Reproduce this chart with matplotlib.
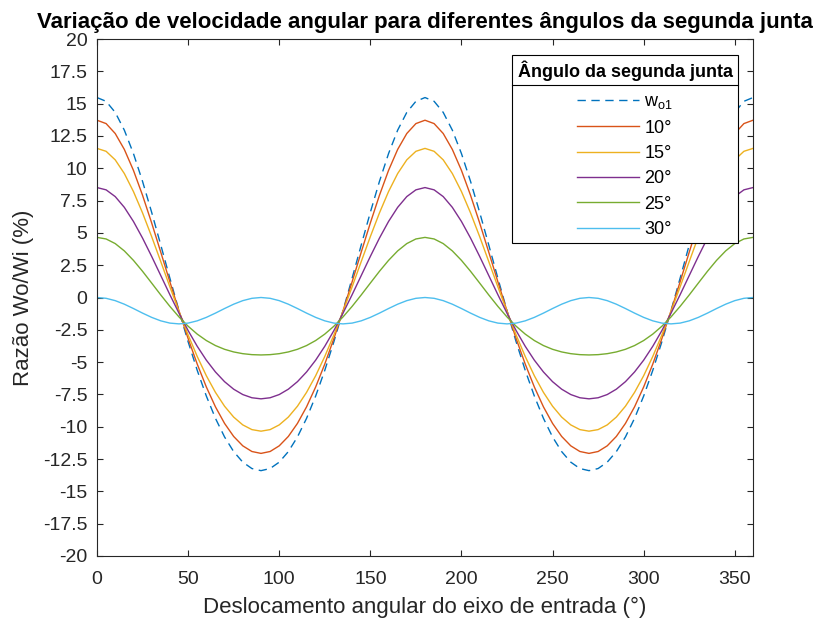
import matplotlib
matplotlib.use("Agg")
import matplotlib.pyplot as plt
from matplotlib.lines import Line2D

plt.rcParams['font.family'] = ['Liberation Sans', 'DejaVu Sans']

# Input shaft angle (degrees)
angle = list(range(0, 361, 5))

# Velocity ratio variation (%)
w_o1 = [15.470, 15.178, 14.321, 12.948, 11.137, 8.982, 6.588, 4.059, 1.492, -1.026, -3.421, -5.636, -7.624, -9.350, -10.789, -11.923, -12.740, -13.233, -13.397,
        -13.233, -12.740, -11.923, -10.789, -9.350, -7.624, -5.636, -3.421, -1.026, 1.492, 4.059, 6.588, 8.982, 11.137, 12.948, 14.321, 15.178, 15.470,
        15.178, 14.321, 12.948, 11.137, 8.982, 6.588, 4.059, 1.492, -1.026, -3.421, -5.636, -7.624, -9.350, -10.789, -11.923, -12.740, -13.233, -13.397,
        -13.233, -12.740, -11.923, -10.789, -9.350, -7.624, -5.636, -3.421, -1.026, 1.492, 4.059, 6.588, 8.982, 11.137, 12.948, 14.321, 15.178, 15.470]

j10 = [13.716, 13.455, 12.687, 11.457, 9.836, 7.907, 5.766, 3.505, 1.211, -1.037, -3.175, -5.151, -6.922, -8.460, -9.741, -10.750, -11.477, -11.915, -12.061,
       -11.915, -11.477, -10.750, -9.741, -8.460, -6.922, -5.151, -3.175, -1.037, 1.211, 3.505, 5.766, 7.907, 9.836, 11.457, 12.687, 13.455, 13.716,
       13.455, 12.687, 11.457, 9.836, 7.907, 5.766, 3.505, 1.211, -1.037, -3.175, -5.151, -6.922, -8.460, -9.741, -10.750, -11.477, -11.915, -12.061,
       -11.915, -11.477, -10.750, -9.741, -8.460, -6.922, -5.151, -3.175, -1.037, 1.211, 3.505, 5.766, 7.907, 9.836, 11.457, 12.687, 13.455, 13.716]

j15 = [11.536, 11.311, 10.649, 9.591, 8.198, 6.543, 4.709, 2.778, 0.824, -1.085, -2.895, -4.562, -6.052, -7.340, -8.411, -9.252, -9.857, -10.221, -10.342,
       -10.221, -9.857, -9.252, -8.411, -7.340, -6.052, -4.562, -2.895, -1.085, 0.824, 2.778, 4.709, 6.543, 8.198, 9.591, 10.649, 11.311, 11.536,
       11.311, 10.649, 9.591, 8.198, 6.543, 4.709, 2.778, 0.824, -1.085, -2.895, -4.562, -6.052, -7.340, -8.411, -9.252, -9.857, -10.221, -10.342,
       -10.221, -9.857, -9.252, -8.411, -7.340, -6.052, -4.562, -2.895, -1.085, 0.824, 2.778, 4.709, 6.543, 8.198, 9.591, 10.649, 11.311, 11.536]

j20 = [8.506, 8.329, 7.807, 6.975, 5.883, 4.595, 3.177, 1.697, 0.215, -1.217, -2.557, -3.774, -4.847, -5.761, -6.512, -7.094, -7.509, -7.757, -7.840,
       -7.757, -7.509, -7.094, -6.512, -5.761, -4.847, -3.774, -2.557, -1.217, 0.215, 1.697, 3.177, 4.595, 5.883, 6.975, 7.807, 8.329, 8.506,
       8.329, 7.807, 6.975, 5.883, 4.595, 3.177, 1.697, 0.215, -1.217, -2.557, -3.774, -4.847, -5.761, -6.512, -7.094, -7.509, -7.757, -7.840,
       -7.757, -7.509, -7.094, -6.512, -5.761, -4.847, -3.774, -2.557, -1.217, 0.215, 1.697, 3.177, 4.595, 5.883, 6.975, 7.807, 8.329, 8.506]

j25 = [4.651, 4.529, 4.171, 3.605, 2.873, 2.026, 1.116, 0.197, -0.688, -1.503, -2.222, -2.832, -3.329, -3.718, -4.008, -4.212, -4.346, -4.421, -4.445,
       -4.421, -4.346, -4.212, -4.008, -3.718, -3.329, -2.832, -2.222, -1.503, -0.688, 0.197, 1.116, 2.026, 2.873, 3.605, 4.171, 4.529, 4.651,
       4.529, 4.171, 3.605, 2.873, 2.026, 1.116, 0.197, -0.688, -1.503, -2.222, -2.832, -3.329, -3.718, -4.008, -4.212, -4.346, -4.421, -4.445,
       -4.421, -4.346, -4.212, -4.008, -3.718, -3.329, -2.832, -2.222, -1.503, -0.688, 0.197, 1.116, 2.026, 2.873, 3.605, 4.171, 4.529, 4.651]

j30 = [0.000, -0.063, -0.243, -0.518, -0.853, -1.208, -1.538, -1.806, -1.981, -2.041, -1.981, -1.806, -1.538, -1.208, -0.853, -0.518, -0.243, -0.063, 0.000,
       -0.063, -0.243, -0.518, -0.853, -1.208, -1.538, -1.806, -1.981, -2.041, -1.981, -1.806, -1.538, -1.208, -0.853, -0.518, -0.243, -0.063, 0.000,
       -0.063, -0.243, -0.518, -0.853, -1.208, -1.538, -1.806, -1.981, -2.041, -1.981, -1.806, -1.538, -1.208, -0.853, -0.518, -0.243, -0.063, 0.000,
       -0.063, -0.243, -0.518, -0.853, -1.208, -1.538, -1.806, -1.981, -2.041, -1.981, -1.806, -1.538, -1.208, -0.853, -0.518, -0.243, -0.063, 0.000]

labels = [r'$\mathregular{w_{o1}}$', '10°', '15°', '20°', '25°', '30°']
y_ticks = [-20, -17.5, -15, -12.5, -10, -7.5, -5, -2.5, 0, 2.5, 5, 7.5, 10, 12.5, 15, 17.5, 20]
y_ticklabels = ['-20', '-17.5', '-15', '-12.5', '-10', '-7.5', '-5', '-2.5', '0', '2.5', '5', '7.5', '10', '12.5', '15', '17.5', '20']
x_ticks = [0, 50, 100, 150, 200, 250, 300, 350]

colors = ['#0072BD', '#D95319', '#EDB120', '#7E2F8E', '#77AC30', '#4DBEEE']
series = [w_o1, j10, j15, j20, j25, j30]

W, H = 817, 621
fig = plt.figure(figsize=(W / 100, H / 100), dpi=100)
ax = fig.add_axes([97 / W, 1 - 556 / H, (753 - 97) / W, (556 - 39) / H])

for i, (s, c, lab) in enumerate(zip(series, colors, labels)):
    if i == 0:
        ax.plot(angle, s, color=c, lw=1.0, dashes=(6, 4), label=lab)
    else:
        ax.plot(angle, s, color=c, lw=1.0, label=lab)

ax.set_xlim(0, 360)
ax.set_ylim(-20, 20)
ax.set_xticks(x_ticks)
ax.set_yticks(y_ticks)
ax.set_yticklabels(y_ticklabels)
gray = '#262626'
ax.tick_params(direction='in', top=True, right=True, length=4.5, width=0.8,
               labelsize=14, colors=gray)
ax.tick_params(axis='x', pad=11)
ax.tick_params(axis='y', pad=7)
for sp in ax.spines.values():
    sp.set_color(gray)
    sp.set_linewidth(0.8)

ax.set_xlabel('Deslocamento angular do eixo de entrada (°)', fontsize=16, color=gray, labelpad=6)
ax.set_ylabel('Razão Wo/Wi (%)', fontsize=16, color=gray, labelpad=6)
ax.set_title('Variação de velocidade angular para diferentes ângulos da segunda junta',
             fontsize=16, fontweight='bold', color='black', pad=8)

leg = ax.legend(loc='upper right', bbox_to_anchor=((738 - 97) / 656, (556 - 55) / 517),
                borderaxespad=0, fontsize=13, title='Ângulo da segunda junta',
                title_fontproperties={'weight': 'bold', 'size': 13},
                frameon=True, fancybox=False, edgecolor='black', framealpha=1,
                handlelength=3.4, handletextpad=0.3, labelspacing=0.46,
                borderpad=0.3)
leg.get_frame().set_linewidth(0.8)
leg._legend_box.sep = 9

fig.canvas.draw()
r = fig.canvas.get_renderer()
lb = leg.get_window_extent(r)
tb = leg.get_title().get_window_extent(r)
ysep = tb.y0 - 4
fig.add_artist(Line2D([lb.x0 / W, lb.x1 / W], [ysep / H, ysep / H],
                      color='black', lw=0.8))

fig.savefig('out.png', dpi=100)
